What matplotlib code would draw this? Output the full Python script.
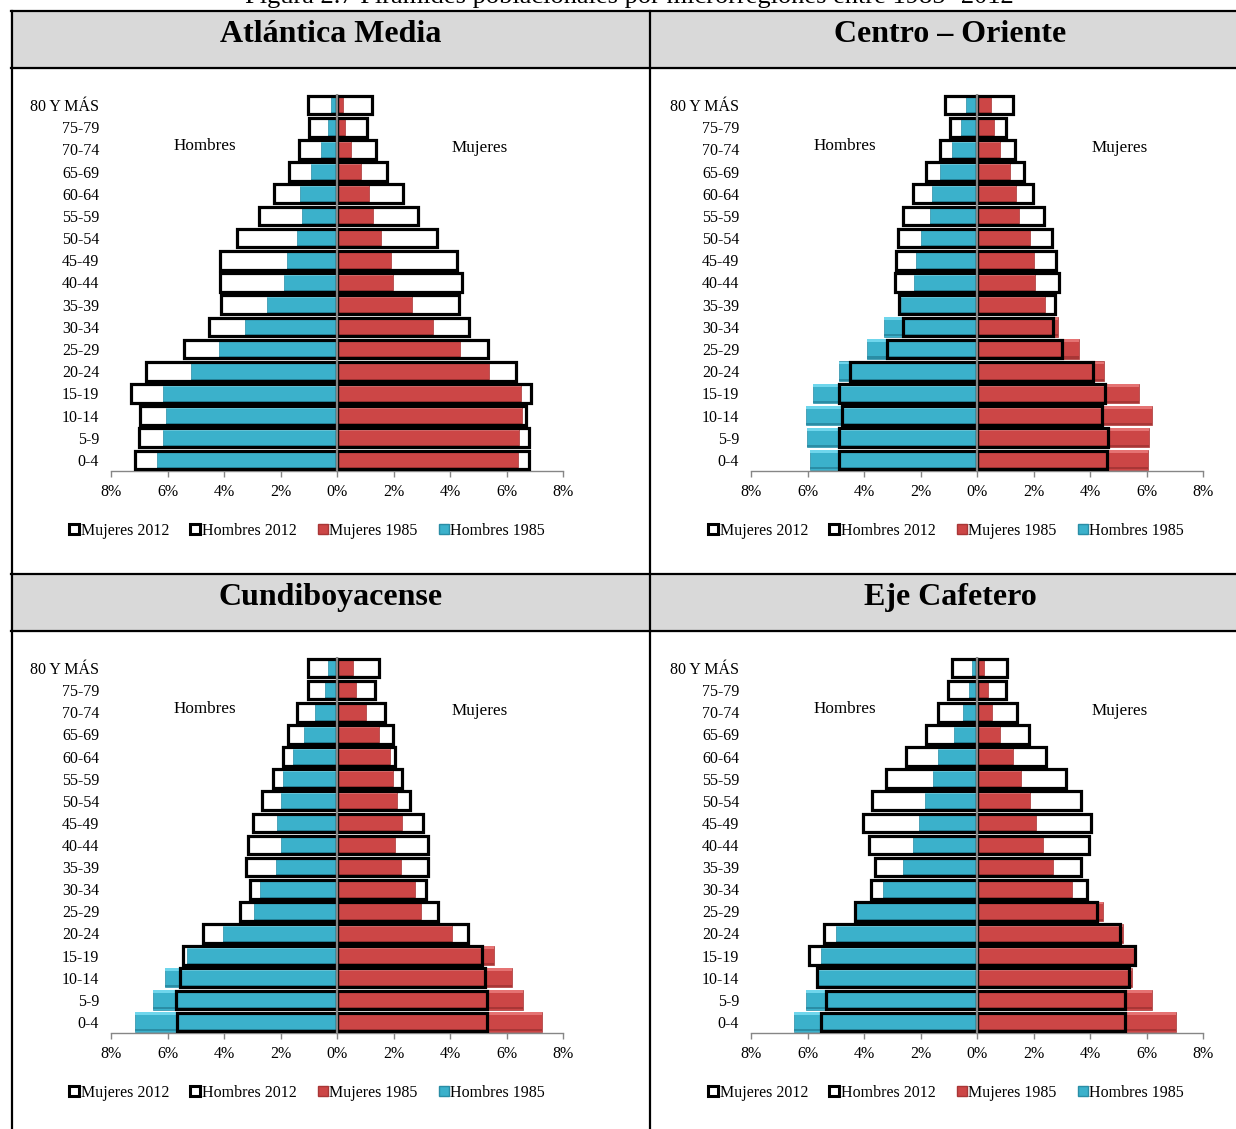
import matplotlib.pyplot as plt
from matplotlib.lines import Line2D
from matplotlib.patches import Rectangle

plt.rcParams['font.family'] = ['Liberation Serif', 'DejaVu Serif']

W, H = 1236, 1129

ages = ["0-4", "5-9", "10-14", "15-19", "20-24", "25-29", "30-34", "35-39", "40-44",
        "45-49", "50-54", "55-59", "60-64", "65-69", "70-74", "75-79", "80 Y MÁS"]

# values in % of population, listed from 0-4 up to 80 y más
am_h2012 = [7.16, 7.01, 6.99, 7.29, 6.75, 5.42, 4.54, 4.11, 4.15, 4.15, 3.54, 2.76, 2.23, 1.71, 1.33, 1.00, 1.04]
am_m2012 = [6.81, 6.79, 6.70, 6.88, 6.35, 5.36, 4.68, 4.32, 4.44, 4.24, 3.55, 2.86, 2.35, 1.77, 1.37, 1.07, 1.25]
am_h1985 = [6.38, 6.15, 6.06, 6.15, 5.18, 4.18, 3.26, 2.49, 1.89, 1.77, 1.42, 1.24, 1.31, 0.92, 0.56, 0.32, 0.20]
am_m1985 = [6.40, 6.46, 6.56, 6.50, 5.39, 4.36, 3.40, 2.65, 1.99, 1.92, 1.56, 1.27, 1.13, 0.85, 0.48, 0.27, 0.21]

co_h2012 = [4.88, 4.88, 4.79, 4.89, 4.48, 3.17, 2.63, 2.77, 2.89, 2.88, 2.79, 2.61, 2.26, 1.81, 1.32, 0.95, 1.15]
co_m2012 = [4.60, 4.62, 4.42, 4.52, 4.12, 3.00, 2.68, 2.77, 2.92, 2.80, 2.65, 2.36, 1.99, 1.68, 1.35, 1.01, 1.29]
co_h1985 = [5.92, 6.01, 6.07, 5.82, 4.90, 3.90, 3.29, 2.68, 2.23, 2.17, 1.99, 1.65, 1.60, 1.31, 0.88, 0.58, 0.40]
co_m1985 = [6.05, 6.08, 6.19, 5.75, 4.50, 3.61, 2.87, 2.42, 2.06, 2.02, 1.89, 1.50, 1.38, 1.17, 0.81, 0.60, 0.49]

cb_h2012 = [5.65, 5.70, 5.54, 5.44, 4.76, 3.45, 3.09, 3.21, 3.15, 2.98, 2.65, 2.26, 1.91, 1.72, 1.42, 1.04, 1.02]
cb_m2012 = [5.30, 5.30, 5.23, 5.12, 4.63, 3.57, 3.16, 3.22, 3.22, 3.03, 2.59, 2.31, 2.05, 1.99, 1.70, 1.34, 1.50]
cb_h1985 = [7.15, 6.50, 6.08, 5.31, 4.02, 2.95, 2.74, 2.17, 1.99, 2.14, 1.99, 1.90, 1.56, 1.17, 0.78, 0.42, 0.32]
cb_m1985 = [7.24, 6.58, 6.21, 5.56, 4.07, 2.98, 2.76, 2.26, 2.05, 2.29, 2.13, 1.98, 1.88, 1.49, 1.03, 0.69, 0.55]

ec_h2012 = [5.51, 5.33, 5.65, 5.93, 5.42, 4.32, 3.76, 3.61, 3.84, 4.05, 3.73, 3.21, 2.50, 1.81, 1.37, 1.01, 0.90]
ec_m2012 = [5.24, 5.24, 5.38, 5.60, 5.06, 4.25, 3.90, 3.69, 3.98, 4.02, 3.69, 3.16, 2.43, 1.85, 1.40, 1.04, 1.07]
ec_h1985 = [6.49, 6.06, 5.63, 5.51, 4.98, 4.29, 3.31, 2.63, 2.27, 2.06, 1.84, 1.56, 1.38, 0.81, 0.49, 0.27, 0.18]
ec_m1985 = [7.06, 6.20, 5.50, 5.57, 5.17, 4.46, 3.38, 2.69, 2.33, 2.09, 1.87, 1.57, 1.29, 0.80, 0.54, 0.38, 0.26]

regions = ["Atlántica Media", "Centro – Oriente", "Cundiboyacense", "Eje Cafetero"]

BLUE = "#3BB1CB"
BLUE_HI = "#6FD6EC"
BLUE_LO = "#2A8DA5"
RED = "#CC4646"
RED_HI = "#E57373"
RED_LO = "#A83636"
GRID = "#868686"


def fx(x):
    return x / W


def fy(y):
    return 1 - y / H


def bevel_bars(ax, y, vals, base, hi, lo, h=0.88):
    # flat bar plus a light top strip and darker bottom strip (3d-ish look of the original)
    ax.barh(y, vals, height=h, color=base, edgecolor=lo, linewidth=0.5, zorder=2)
    top = [v + h / 2 - 0.07 for v in y]
    bot = [v - h / 2 + 0.06 for v in y]
    ax.barh(top, vals, height=0.12, color=hi, linewidth=0, zorder=2.1)
    ax.barh(bot, vals, height=0.10, color=lo, linewidth=0, zorder=2.1)


def draw_pyramid(ax, h2012, m2012, h1985, m1985):
    y = list(range(len(ages)))
    bevel_bars(ax, y, [-v for v in h1985], BLUE, BLUE_HI, BLUE_LO)
    bevel_bars(ax, y, m1985, RED, RED_HI, RED_LO)
    ax.barh(y, [-v for v in h2012], height=0.84, fill=False, edgecolor="black", linewidth=2.3, zorder=3)
    ax.barh(y, m2012, height=0.84, fill=False, edgecolor="black", linewidth=2.3, zorder=3)
    ax.axvline(0, color=GRID, linewidth=1.6, zorder=4)

    ax.set_xlim(-8, 8)
    ax.set_ylim(-0.5, len(ages) - 0.5)
    ticks = list(range(-8, 9, 2))
    ax.set_xticks(ticks)
    ax.set_xticklabels([f"{abs(t)}%" for t in ticks], fontsize=11.5)
    ax.set_yticks(y)
    ax.set_yticklabels(ages, fontsize=11.5)
    ax.tick_params(axis="y", length=0, pad=8.5)
    ax.tick_params(axis="x", length=4, width=1, color=GRID, pad=5)
    for s in ["top", "right", "left"]:
        ax.spines[s].set_visible(False)
    ax.spines["bottom"].set_color(GRID)
    ax.spines["bottom"].set_linewidth(1)
    ax.text(0.208, 0.862, "Hombres", transform=ax.transAxes, ha="center", va="center", fontsize=12.3)
    ax.text(0.815, 0.857, "Mujeres", transform=ax.transAxes, ha="center", va="center", fontsize=12.3)


fig = plt.figure(figsize=(W / 100, H / 100), dpi=100)

# table: gray header cells and borders
for top in [11, 574]:
    fig.patches.append(Rectangle((fx(11), fy(top + 57)), fx(W - 11), 57 / H,
                                 transform=fig.transFigure, color="#D9D9D9", zorder=0))
for yy in [11, 68, 574, 631]:
    fig.add_artist(Line2D([fx(11), 1], [fy(yy), fy(yy)], color="black", lw=1.6))
for xx in [12, 650]:
    fig.add_artist(Line2D([fx(xx), fx(xx)], [fy(11), 0], color="black", lw=1.6))

# caption sits above the table and is clipped at the top, as in the source page
fig.text(fx(629), fy(3), "Figura 2.7 Pirámides poblacionales por microrregiones entre 1985- 2012",
         ha="center", va="baseline", fontsize=19)

title_pos = [(331, 35), (950, 35), (331, 597), (950, 597)]
for name, (tx, ty) in zip(regions, title_pos):
    fig.text(fx(tx), fy(ty), name, ha="center", va="center", fontsize=23, fontweight="bold")

data = [
    (am_h2012, am_m2012, am_h1985, am_m1985),
    (co_h2012, co_m2012, co_h1985, co_m1985),
    (cb_h2012, cb_m2012, cb_h1985, cb_m1985),
    (ec_h2012, ec_m2012, ec_h1985, ec_m1985),
]
ax_boxes = [(111, 94, 471), (751, 94, 471), (111, 657, 1033), (751, 657, 1033)]
legend_pos = [(307, 531), (946, 531), (307, 1093), (946, 1093)]

handles = [
    Line2D([], [], marker="s", ls="none", markersize=7.5, markerfacecolor="white",
           markeredgecolor="black", markeredgewidth=2.2),
    Line2D([], [], marker="s", ls="none", markersize=7.5, markerfacecolor="white",
           markeredgecolor="black", markeredgewidth=2.2),
    Line2D([], [], marker="s", ls="none", markersize=7, markerfacecolor=RED, markeredgecolor=RED_LO),
    Line2D([], [], marker="s", ls="none", markersize=7, markerfacecolor=BLUE, markeredgecolor=BLUE_LO),
]
labels = ["Mujeres 2012", "Hombres 2012", "Mujeres 1985", "Hombres 1985"]

for vals, (left, top, bottom), (lx, ly) in zip(data, ax_boxes, legend_pos):
    ax = fig.add_axes([fx(left), fy(bottom), 452 / W, (bottom - top) / H])
    draw_pyramid(ax, *vals)
    fig.legend(handles, labels, loc="center", bbox_to_anchor=(fx(lx), fy(ly)), ncol=4,
               frameon=False, fontsize=11.5, handlelength=0.7, handletextpad=0.05,
               columnspacing=1.3, borderaxespad=0)

fig.savefig("out.png", dpi=100)
